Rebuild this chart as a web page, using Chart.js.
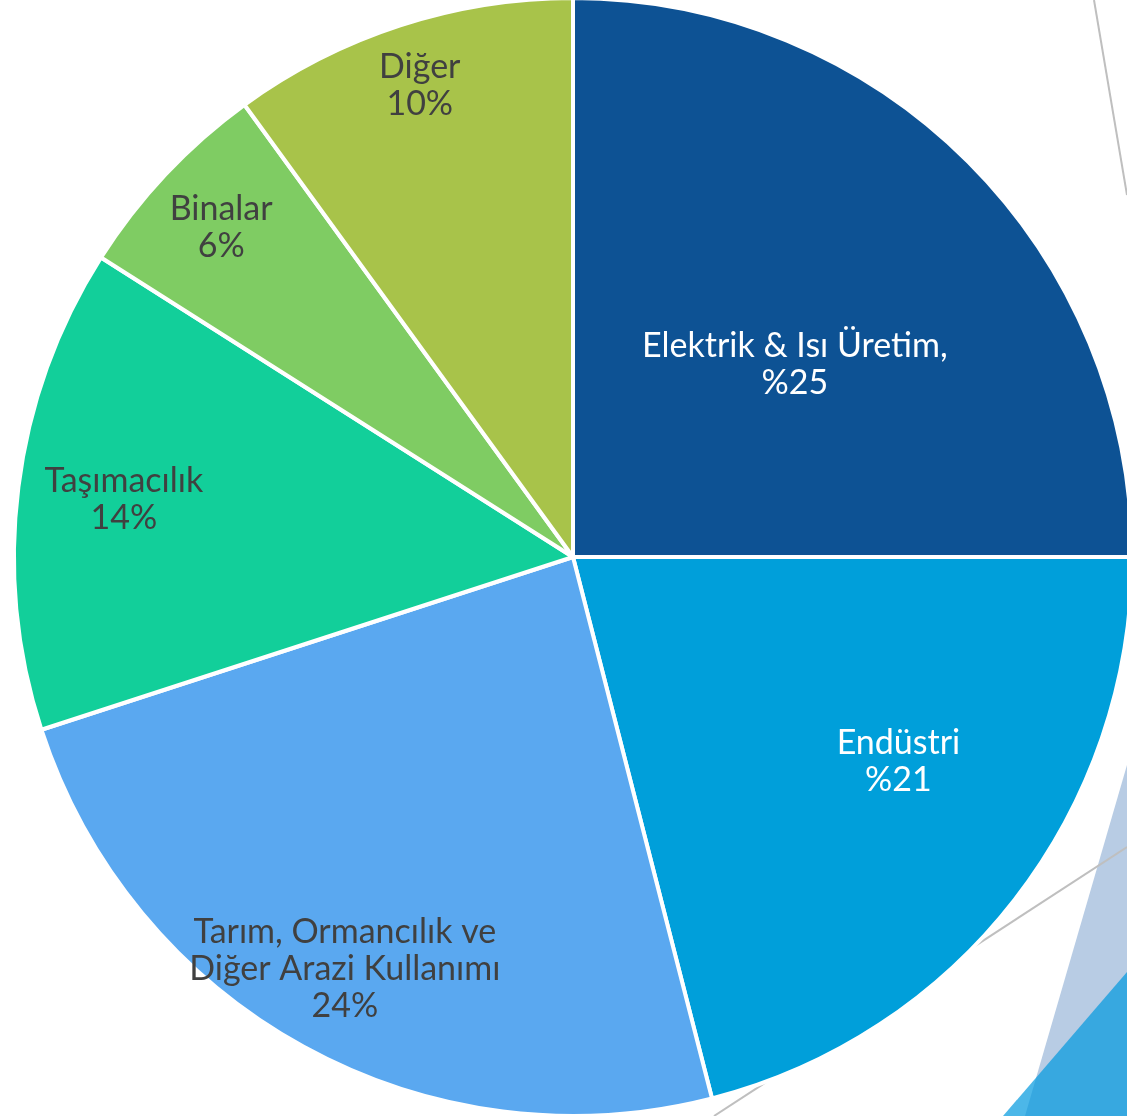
<!DOCTYPE html>
<html>
<head>
<meta charset="utf-8">
<script src="https://cdn.jsdelivr.net/npm/chart.js@4.4.1/dist/chart.umd.min.js"></script>
<style>
    html, body { margin: 0; padding: 0; background: #ffffff; }
    #stage { position: relative; width: 1127px; height: 1116px; overflow: hidden; }
    #deco { position: absolute; left: 0; top: 0; }
    #chartBox { position: absolute; left: -3px; top: -4px; }
</style>
</head>
<body>
<div id="stage">
    <!-- slide background decoration -->
    <svg id="deco" width="1127" height="1116">
        <line x1="1094" y1="0" x2="1127" y2="195" stroke="#bfbfbf" stroke-width="2"/>
        <polygon points="1127,765 1025,1116 1127,1116" fill="#b8cce4"/>
        <line x1="714" y1="1116" x2="1127" y2="847" stroke="#bfbfbf" stroke-width="2"/>
        <polygon points="1127,972 1003,1116 1127,1116" fill="rgba(0,153,222,0.7)"/>
    </svg>
    <div id="chartBox">
        <canvas id="emissionChart" width="1152" height="1122"></canvas>
    </div>
</div>

<script>
// =============================
// DATA
// =============================

const categories = [
    ["Elektrik & Isı Üretim,"],
    ["Endüstri"],
    ["Tarım, Ormancılık ve", "Diğer Arazi Kullanımı"],
    ["Taşımacılık"],
    ["Binalar"],
    ["Diğer"]
];

const shares = [25, 21, 24, 14, 6, 10];

// turkish style "%25" for the first two slices, "24%" for the rest
const percentFirst = [true, true, false, false, false, false];

const sliceColors = ["#0d5294", "#009fda", "#5aa8f0", "#12cf9a", "#7fcc63", "#a8c34a"];
const labelColors = ["#ffffff", "#ffffff", "#404040", "#404040", "#404040", "#404040"];

// label placement: fraction of radius, and angle shift (deg) from slice middle
const labelRadius = [0.525, 0.688, 0.842, 0.81, 0.862, 0.887];
const labelShift = [4.1, -5.6, 0.2, 0.1, -0.1, 0];


// =============================
// LABEL PLUGIN
// =============================

const sliceLabels = {
    id: "sliceLabels",
    afterDatasetsDraw(chart) {
        const ctx = chart.ctx;
        const meta = chart.getDatasetMeta(0);

        ctx.save();
        ctx.font = "34px Lato";
        ctx.textAlign = "center";
        ctx.textBaseline = "middle";

        meta.data.forEach((arc, i) => {
            const p = arc.getProps(["x", "y", "startAngle", "endAngle", "outerRadius"], true);
            const mid = (p.startAngle + p.endAngle) / 2 + labelShift[i] * Math.PI / 180;
            const r = p.outerRadius * labelRadius[i];
            const x = p.x + Math.cos(mid) * r;
            const y = p.y + Math.sin(mid) * r;

            const value = shares[i];
            const pct = percentFirst[i] ? "%" + value : value + "%";
            const lines = categories[i].concat([pct]);
            const lineH = 37;
            const top = y - (lines.length - 1) * lineH / 2;

            ctx.fillStyle = labelColors[i];
            lines.forEach((t, k) => ctx.fillText(t, x, top + k * lineH));
        });

        ctx.restore();
    }
};


// =============================
// CHART
// =============================

new Chart(
    document.getElementById("emissionChart"),
    {
        type: "pie",
        data: {
            labels: categories.map(c => c.join(" ")),
            datasets: [
                {
                    data: shares,
                    backgroundColor: sliceColors,
                    borderColor: "#ffffff",
                    borderWidth: 4
                }
            ]
        },
        options: {
            responsive: false,
            animation: false,
            devicePixelRatio: 1,
            layout: { padding: 0 },
            plugins: {
                legend: { display: false },
                tooltip: { enabled: false }
            }
        },
        plugins: [sliceLabels]
    }
);
</script>
</body>
</html>
